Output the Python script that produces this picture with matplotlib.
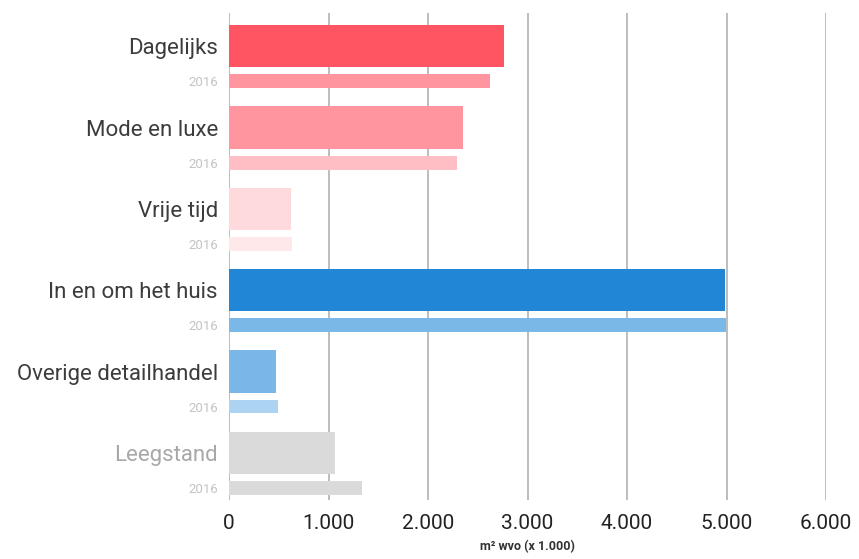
import matplotlib
matplotlib.use('Agg')
import matplotlib.pyplot as plt
import numpy as np

# ===== data (m² wvo x 1.000) =====
categories = ['Dagelijks', 'Mode en luxe', 'Vrije tijd', 'In en om het huis',
              'Overige detailhandel', 'Leegstand']
current = [2765, 2355, 625, 4985, 475, 1065]
year_2016 = [2625, 2290, 635, 4995, 495, 1340]
label_2016 = '2016'
x_ticks = [0, 1000, 2000, 3000, 4000, 5000, 6000]
x_ticklabels = ['0', '1.000', '2.000', '3.000', '4.000', '5.000', '6.000']
x_title = 'm² wvo (x 1.000)'

colors_main = ['#FF5563', '#FF959E', '#FFDADD', '#2286D6', '#7AB6E8', '#DADADA']
colors_2016 = ['#FF959E', '#FFBEC3', '#FFE8EA', '#7AB8E8', '#ADD3F2', '#DADADA']
label_colors = ['#3C3C3C'] * 5 + ['#A8A8A8']

plt.rcParams['font.family'] = ['Roboto', 'DejaVu Sans']

fig = plt.figure(figsize=(8.59, 5.59), dpi=100)
ax = fig.add_axes([229 / 859, 1 - 500 / 559, (826 - 229) / 859, (500 - 13) / 559])

pos_main = np.arange(len(categories))
pos_2016 = pos_main + 0.43

ax.barh(pos_main, current, height=0.52, color=colors_main, zorder=2)
ax.barh(pos_2016, year_2016, height=0.17, color=colors_2016, zorder=2)

# grid
for xv in x_ticks:
    ax.axvline(xv, color='#BDBDBD', linewidth=1.4, zorder=1)

ax.set_xlim(0, 6000)
ax.set_ylim(5.58, -0.41)
for s in ax.spines.values():
    s.set_visible(False)

ax.set_xticks(x_ticks)
ax.set_xticklabels(x_ticklabels, fontsize=15, color='#222222')
ax.tick_params(axis='x', length=0, pad=10)
ax.set_xlabel(x_title, fontsize=9, fontweight='bold', color='#333333', labelpad=5)

yt = list(pos_main) + list(pos_2016)
ylab = categories + [label_2016] * len(categories)
ax.set_yticks(yt)
ax.set_yticklabels(ylab)
ax.tick_params(axis='y', length=0, pad=8)
labels = ax.get_yticklabels()
for i, lab in enumerate(labels):
    if i < len(categories):
        lab.set_fontsize(16)
        lab.set_color(label_colors[i])
    else:
        lab.set_fontsize(9.5)
        lab.set_color('#C4C4C4')

fig.savefig('out.png', dpi=100, facecolor='white')
